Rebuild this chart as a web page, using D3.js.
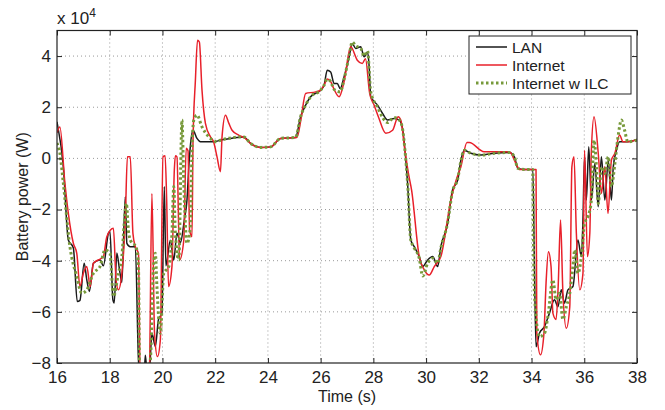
<!DOCTYPE html>
<html>
<head>
<meta charset="utf-8">
<script src="https://cdn.jsdelivr.net/npm/d3@7"></script>
<style>
body { margin: 0; background: #fff; }
svg { font-family: "Liberation Sans", Arial, sans-serif; }
</style>
</head>
<body>
<svg width="665" height="410"></svg>
<script>
// values in units of 10^4 W
var xTicks = [16, 18, 20, 22, 24, 26, 28, 30, 32, 34, 36, 38];
var yTicks = [-8, -6, -4, -2, 0, 2, 4];
var seriesNames = ["LAN", "Internet", "Internet w ILC"];

var lanT = [16.0,16.24,16.43,16.62,16.77,16.87,17.03,17.13,17.23,17.38,17.63,17.76,17.95,18.01,18.12,18.17,18.27,18.37,18.46,18.59,18.65,18.78,18.97,19.09,19.15,19.3,19.35,19.42,19.5,19.6,19.73,19.85,19.98,20.07,20.13,20.3,20.43,20.55,20.68,20.83,20.93,21.0,21.08,21.16,21.31,21.44,21.94,22.2,23.08,23.34,23.72,24.1,24.48,25.05,25.24,25.43,25.62,26.0,26.13,26.25,26.38,26.51,26.63,26.74,26.89,27.08,27.2,27.33,27.52,27.65,27.78,27.84,27.9,28.16,28.35,28.54,28.79,28.98,29.1,29.2,29.3,29.42,29.55,29.74,29.87,30.06,30.25,30.44,30.56,30.82,31.0,31.2,31.32,31.45,31.7,32.08,32.59,33.16,33.35,33.48,33.73,34.05,34.11,34.17,34.3,34.49,34.68,34.87,35.0,35.13,35.25,35.38,35.57,35.76,35.89,35.95,36.01,36.08,36.17,36.27,36.4,36.53,36.65,36.78,36.91,37.03,37.1,37.22,37.34,37.65,38.0];
var lanP = [1.43,-0.33,-3.19,-3.5,-5.6,-5.55,-4.1,-4.75,-5.2,-4.1,-3.97,-4.2,-2.93,-2.86,-5.53,-5.65,-3.7,-4.35,-4.85,-1.5,-3.32,-3.45,-3.45,-7.88,-8.6,-8.6,-7.7,-8.4,-8.4,-6.84,-7.35,-6.3,-6.05,-1.1,-4.2,-3.2,-3.97,-2.93,-3.3,-2.4,-1.63,-0.33,0.71,1.1,0.78,0.65,0.65,0.71,0.84,0.59,0.43,0.45,0.78,0.82,1.63,2.08,2.41,2.67,2.86,3.45,3.38,2.93,2.93,2.73,3.19,3.97,4.49,4.3,4.36,3.97,4.16,3.6,2.41,2.08,1.76,1.5,1.56,1.5,1.2,0.3,-1.0,-3.19,-3.45,-3.84,-4.23,-3.97,-3.84,-4.23,-3.45,-2.54,-1.24,-0.85,-0.07,0.32,0.2,0.13,0.2,0.23,0.06,-0.39,-0.43,-0.43,-4.23,-7.36,-6.84,-6.58,-6.05,-5.53,-5.8,-5.14,-5.66,-5.14,-5.01,-3.19,-3.84,-2.41,0.06,-1.63,0.45,-1.63,-0.2,-1.89,0.06,-1.63,-0.07,-1.63,-0.33,0.32,0.65,0.65,0.74];

var netT = [16.0,16.11,16.3,16.43,16.62,16.75,16.87,17.0,17.13,17.26,17.38,17.57,17.76,17.89,18.14,18.24,18.33,18.46,18.59,18.67,18.78,18.88,18.97,19.09,19.16,19.4,19.5,19.6,19.7,19.81,19.92,20.02,20.1,20.16,20.23,20.36,20.45,20.49,20.55,20.65,20.81,20.9,20.97,21.03,21.12,21.16,21.25,21.33,21.4,21.5,21.63,21.82,21.94,22.07,22.2,22.26,22.39,22.52,22.64,22.89,23.14,23.34,23.72,24.1,24.48,25.1,25.25,25.43,25.81,26.0,26.13,26.25,26.38,26.51,26.7,26.89,27.14,27.39,27.58,27.7,27.86,28.03,28.2,28.47,28.73,28.94,29.04,29.2,29.33,29.45,29.74,29.93,30.12,30.31,30.56,30.94,31.14,31.32,31.55,31.64,32.2,33.16,33.41,33.54,34.11,34.17,34.2,34.34,34.47,34.55,34.64,34.74,34.81,34.93,35.01,35.1,35.19,35.32,35.45,35.53,35.61,35.7,35.83,35.95,36.01,36.12,36.21,36.27,36.37,36.53,36.65,36.78,36.9,37.03,37.16,37.34,37.47,37.65,38.0];
var netP = [1.0,1.23,-0.97,-2.15,-3.32,-3.71,-5.01,-4.49,-4.23,-5.01,-4.1,-3.97,-3.84,-3.06,-2.73,-4.75,-5.14,-4.49,-2.41,0.06,0.06,-2.93,-3.45,-3.71,-8.8,-8.8,-8.5,-1.37,-6.84,-7.75,-7.1,0.06,0.1,-1.63,-5.01,-4.23,-0.46,0.1,0.06,-3.97,-3.19,0.4,0.3,-2.8,-3.06,0.71,3.06,4.62,4.55,2.67,1.37,0.84,0.65,0.06,-0.52,0.84,1.69,1.37,1.1,0.91,0.78,0.59,0.43,0.45,0.78,0.82,1.5,2.54,2.6,2.67,2.86,3.1,3.0,2.7,2.41,3.0,4.36,3.84,3.71,3.9,2.54,2.08,1.6,0.98,1.1,1.63,1.5,0.3,-0.59,-1.24,-3.84,-4.36,-4.56,-4.23,-3.84,-1.63,-0.85,-0.33,0.62,0.62,0.26,0.26,-0.2,-0.43,-0.43,-0.43,-6.84,-7.68,-6.84,-4.88,-3.65,-4.23,-6.05,-6.3,-5.01,-2.41,-5.27,-6.64,-5.8,-0.33,0.06,-2.93,-5.14,-4.49,0.32,-3.84,-2.93,0.32,1.63,0.2,-1.37,-0.33,-2.15,-0.07,0.2,0.91,0.65,0.65,0.74];

var ilcT = [16.0,16.11,16.24,16.49,16.75,16.94,17.13,17.38,17.63,17.82,18.01,18.14,18.33,18.46,18.55,18.63,18.72,18.85,18.97,19.03,19.09,19.14,19.3,19.54,19.66,19.73,19.79,19.92,20.05,20.24,20.36,20.43,20.49,20.62,20.74,20.81,20.93,21.06,21.12,21.19,21.31,21.5,21.76,22.07,22.2,23.08,23.34,23.72,24.1,24.48,25.05,25.24,25.43,25.62,26.0,26.13,26.25,26.38,26.51,26.74,26.89,27.08,27.2,27.33,27.52,27.65,27.78,27.9,28.16,28.35,28.54,28.79,28.98,29.1,29.2,29.3,29.42,29.55,29.74,29.87,30.06,30.25,30.44,30.56,30.82,31.0,31.2,31.32,31.45,31.7,32.08,32.59,33.16,33.35,33.48,33.73,34.05,34.07,34.12,34.3,34.49,34.62,34.81,34.93,35.06,35.19,35.32,35.45,35.57,35.64,35.76,35.89,36.01,36.14,36.27,36.37,36.46,36.53,36.65,36.78,36.91,37.03,37.16,37.28,37.41,37.53,37.65,38.0];
var ilcP = [0.6,0.2,-0.97,-3.45,-4.62,-5.27,-5.14,-4.49,-4.23,-3.58,-3.71,-5.4,-4.49,-3.84,-2.54,-1.76,-2.93,-3.32,-3.4,-3.6,-4.23,-8.8,-8.8,-7.9,-4.23,-3.71,-5.01,-6.84,-4.49,-4.23,-2.93,-1.1,-2.93,-3.97,1.5,-0.97,-3.32,-2.67,0.32,1.5,1.69,1.23,0.84,0.65,0.71,0.84,0.59,0.43,0.45,0.78,0.82,1.63,2.08,2.41,2.67,2.86,3.1,3.0,2.7,2.6,3.1,4.0,4.55,4.4,4.3,4.0,4.2,2.6,2.0,1.6,1.4,1.6,1.5,1.2,0.3,-1.0,-3.19,-3.5,-3.9,-4.6,-4.1,-3.9,-4.1,-3.5,-2.5,-1.3,-0.8,-0.1,0.32,0.2,0.13,0.2,0.23,0.06,-0.39,-0.43,-0.43,-3.0,-5.5,-6.97,-6.84,-6.18,-4.75,-5.53,-5.27,-6.3,-5.8,-5.27,-4.23,-3.58,-4.49,-3.84,-2.54,-2.28,-1.63,0.71,-0.33,-1.76,-0.33,-0.59,0.06,-1.1,-0.2,0.84,1.5,1.1,0.65,0.71];

var svg = d3.select("svg");
var pLeft = 57, pRight = 637, pTop = 30.5, pBottom = 363;

var x = d3.scaleLinear().domain([16, 38]).range([pLeft, pRight]);
var y = d3.scaleLinear().domain([-8, 5]).range([pBottom, pTop]);

// dotted grid
svg.append("g").selectAll("line").data(xTicks.slice(1, -1)).join("line")
  .attr("x1", d => x(d)).attr("x2", d => x(d))
  .attr("y1", pTop).attr("y2", pBottom)
  .attr("stroke", "#999").attr("stroke-width", 1).attr("stroke-dasharray", "1,3");
svg.append("g").selectAll("line").data(yTicks.slice(1)).join("line")
  .attr("x1", pLeft).attr("x2", pRight)
  .attr("y1", d => y(d)).attr("y2", d => y(d))
  .attr("stroke", "#999").attr("stroke-width", 1).attr("stroke-dasharray", "1,3");

svg.append("clipPath").attr("id", "clip").append("rect")
  .attr("x", pLeft).attr("y", pTop).attr("width", pRight - pLeft).attr("height", pBottom - pTop);

var line = d3.line().curve(d3.curveMonotoneX).x(d => x(d[0])).y(d => y(d[1]));
function pairs(t, p) { return t.map((v, i) => [v, p[i]]); }

var series = [
  { name: seriesNames[0], data: pairs(lanT, lanP), color: "#1a1a1a", width: 1.5, dash: null },
  { name: seriesNames[1], data: pairs(netT, netP), color: "#e8202a", width: 1.5, dash: null },
  { name: seriesNames[2], data: pairs(ilcT, ilcP), color: "#77993a", width: 3, dash: "2.5,2.5" }
];

var plot = svg.append("g").attr("clip-path", "url(#clip)");
series.forEach(function(s) {
  plot.append("path").datum(s.data)
    .attr("d", line)
    .attr("fill", "none")
    .attr("stroke", s.color)
    .attr("stroke-width", s.width)
    .attr("stroke-dasharray", s.dash)
    .attr("stroke-linejoin", "round");
});

// axes (ticks inside, box all round)
var fs = "16px";
svg.append("g").attr("transform", "translate(0," + pBottom + ")")
  .call(d3.axisBottom(x).tickValues(xTicks).tickSize(-5).tickPadding(8))
  .call(g => g.select(".domain").remove());
svg.append("g").attr("transform", "translate(0," + pTop + ")")
  .call(d3.axisTop(x).tickValues(xTicks).tickSize(-5).tickFormat(""))
  .call(g => g.select(".domain").remove());
svg.append("g").attr("transform", "translate(" + pLeft + ",0)")
  .call(d3.axisLeft(y).tickValues(yTicks).tickSize(-5).tickPadding(6))
  .call(g => g.select(".domain").remove());
svg.append("g").attr("transform", "translate(" + pRight + ",0)")
  .call(d3.axisRight(y).tickValues(yTicks).tickSize(-5).tickFormat(""))
  .call(g => g.select(".domain").remove());
svg.selectAll(".tick text").attr("font-size", "17px").attr("font-family", "Liberation Sans, Arial").attr("fill", "#222");
svg.selectAll(".tick line").attr("stroke", "#222");

svg.append("rect").attr("x", pLeft).attr("y", pTop)
  .attr("width", pRight - pLeft).attr("height", pBottom - pTop)
  .attr("fill", "none").attr("stroke", "#222").attr("stroke-width", 1.2);

// exponent label
var ex = svg.append("text").attr("x", pLeft).attr("y", 24).attr("font-size", "17px").attr("fill", "#222");
ex.append("tspan").text("x 10");
ex.append("tspan").attr("dy", -7).attr("font-size", "12px").text("4");

svg.append("text").attr("x", (pLeft + pRight) / 2).attr("y", 402)
  .attr("text-anchor", "middle").attr("font-size", fs).attr("fill", "#222").text("Time (s)");
svg.append("text").attr("transform", "translate(28," + (pTop + pBottom) / 2 + ") rotate(-90)")
  .attr("text-anchor", "middle").attr("font-size", fs).attr("fill", "#222").text("Battery power (W)");

// legend
var lg = svg.append("g").attr("transform", "translate(469,36)");
lg.append("rect").attr("width", 162).attr("height", 58)
  .attr("fill", "#fff").attr("stroke", "#222").attr("stroke-width", 1);
series.forEach(function(s, i) {
  var yy = 11 + i * 18;
  lg.append("line").attr("x1", 7).attr("x2", 38).attr("y1", yy).attr("y2", yy)
    .attr("stroke", s.color).attr("stroke-width", s.width).attr("stroke-dasharray", s.dash);
  lg.append("text").attr("x", 43).attr("y", yy + 5.5).attr("font-size", "15.5px").attr("fill", "#222").text(s.name);
});
</script>
</body>
</html>
